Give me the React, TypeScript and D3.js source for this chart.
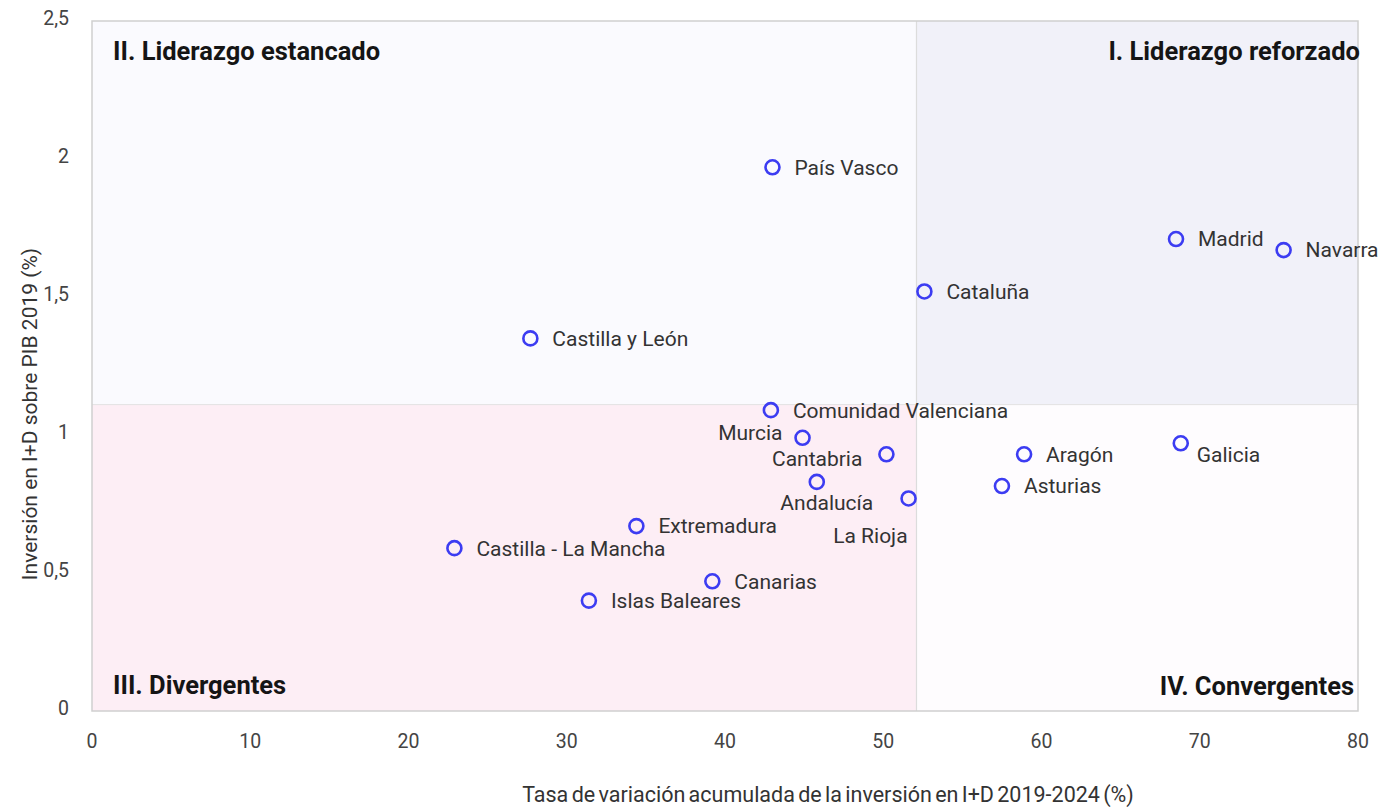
import React from 'react'
import * as d3 from 'd3'

// regions and their values
const regions = [
  'País Vasco', 'Madrid', 'Navarra', 'Cataluña', 'Castilla y León',
  'Comunidad Valenciana', 'Murcia', 'Cantabria', 'Andalucía', 'La Rioja',
  'Aragón', 'Galicia', 'Asturias', 'Extremadura', 'Castilla - La Mancha',
  'Canarias', 'Islas Baleares'
]
// Tasa de variación acumulada 2019-2024 (%)
const growth = [43.0, 68.5, 75.3, 52.6, 27.7, 42.9, 44.9, 50.2, 45.8, 51.6, 58.9, 68.8, 57.5, 34.4, 22.9, 39.2, 31.4]
// Inversión en I+D sobre PIB 2019 (%)
const intensity = [1.97, 1.71, 1.67, 1.52, 1.35, 1.09, 0.99, 0.93, 0.83, 0.77, 0.93, 0.97, 0.815, 0.67, 0.59, 0.47, 0.40]

const xTicks = [0, 10, 20, 30, 40, 50, 60, 70, 80]
const yTicks = [0, 0.5, 1, 1.5, 2, 2.5]

const xSplit = 52.1
const ySplit = 1.11

const quadrants = ['I. Liderazgo reforzado', 'II. Liderazgo estancado', 'III. Divergentes', 'IV. Convergentes']

// label placement: [dx, dy, anchor]
const labelPos: Record<string, [number, number, string]> = {
  'Murcia': [-20, -5, 'end'],
  'Cantabria': [-24, 4, 'end'],
  'Andalucía': [10, 21, 'middle'],
  'La Rioja': [-1, 37, 'end'],
  'Galicia': [16, 11, 'start'],
}

const W = 1388
const H = 807
const left = 92, right = 1358, top = 21, bottom = 711

export default function App() {
  const x = d3.scaleLinear().domain([0, 80]).range([left, right])
  const y = d3.scaleLinear().domain([0, 2.5]).range([bottom, top])
  const fmt = (v: number) => String(v).replace('.', ',')
  const font = 'Roboto, "Noto Sans", sans-serif'

  const xs = x(xSplit), ys = y(ySplit)

  return (
    <svg width={W} height={H} style={{position: 'absolute', left: 0, top: 0, background: '#fff'}} fontFamily={font}>
      {/* quadrants */}
      <rect x={left} y={top} width={xs - left} height={ys - top} fill='#fafafe' />
      <rect x={xs} y={top} width={right - xs} height={ys - top} fill='#f1f1f9' />
      <rect x={left} y={ys} width={xs - left} height={bottom - ys} fill='#fdeef5' />
      <rect x={xs} y={ys} width={right - xs} height={bottom - ys} fill='#fefcfe' />
      <line x1={xs} x2={xs} y1={top} y2={bottom} stroke='#dcdcdc' strokeWidth={1.2} />
      <line x1={left} x2={right} y1={ys} y2={ys} stroke='#e2e2e2' strokeWidth={1} />
      <rect x={left} y={top} width={right - left} height={bottom - top} fill='none' stroke='#cfcfcf' strokeWidth={1.5} />

      <g fontWeight='bold' fontSize={25.5} fill='#151515'>
        <text x={right + 2} y={60} textAnchor='end'>{quadrants[0]}</text>
        <text x={left + 21} y={60}>{quadrants[1]}</text>
        <text x={left + 21} y={694}>{quadrants[2]}</text>
        <text x={right - 4} y={695} textAnchor='end'>{quadrants[3]}</text>
      </g>

      {/* axes */}
      <g fontSize={19.5} fill='#444'>
        {yTicks.map(t => (
          <text key={t} x={69} y={y(t)} dy='0.2em' textAnchor='end'>{fmt(t)}</text>
        ))}
        {xTicks.map(t => (
          <text key={t} x={x(t)} y={748} textAnchor='middle'>{t}</text>
        ))}
      </g>
      <text x={828} y={802} fontSize={21.5} fill='#333' textAnchor='middle' wordSpacing={-2}>
        Tasa de variación acumulada de la inversión en I+D 2019-2024 (%)
      </text>
      <text transform='translate(37,414) rotate(-90)' fontSize={21} fill='#333' textAnchor='middle'>
        Inversión en I+D sobre PIB 2019 (%)
      </text>

      {/* points */}
      {regions.map((r, i) => {
        const cx = x(growth[i]), cy = y(intensity[i])
        const [dx, dy, anchor] = labelPos[r] || [22, 0, 'start']
        return (
          <g key={r}>
            <circle cx={cx} cy={cy} r={7} fill='none' stroke='#3c3cf2' strokeWidth={2.6} />
            <text x={cx + dx} y={cy + dy} dy='0.35em' fontSize={21} fill='#333' textAnchor={anchor}>{r}</text>
          </g>
        )
      })}
    </svg>
  )
}
